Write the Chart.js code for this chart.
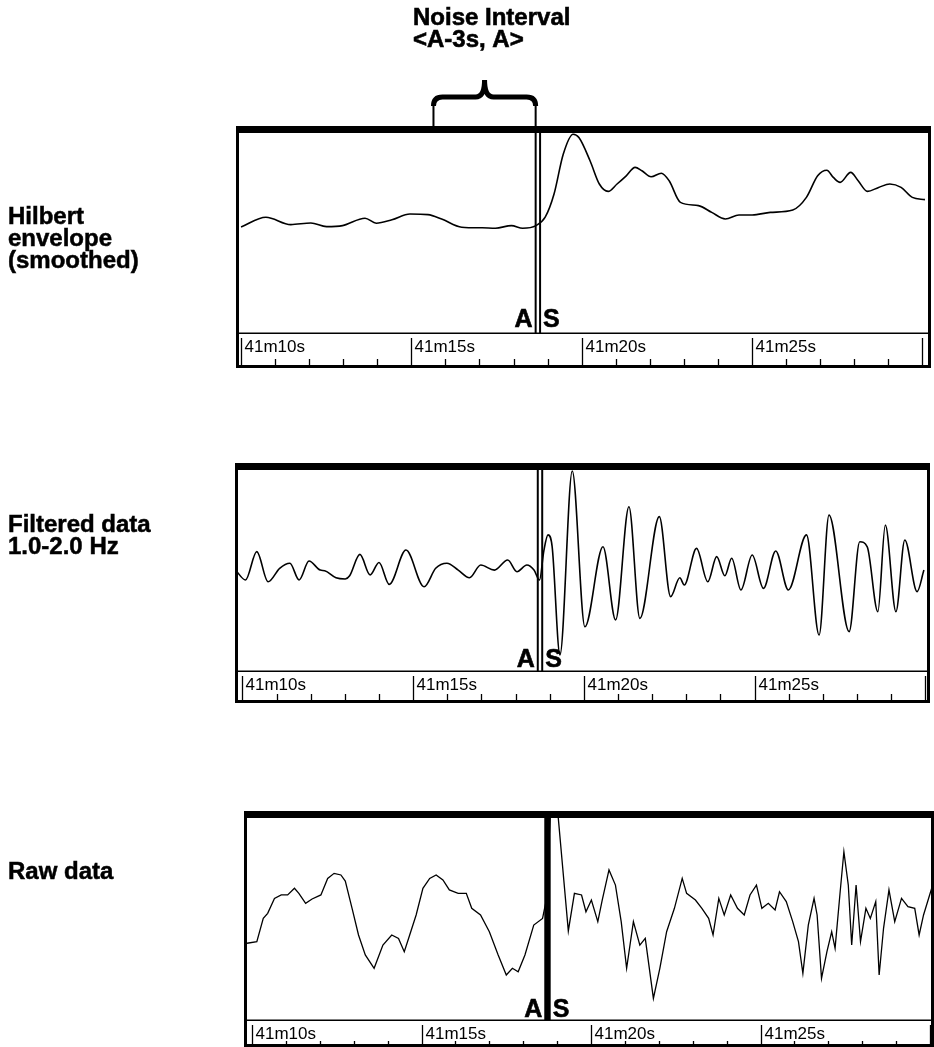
<!DOCTYPE html>
<html>
<head>
<meta charset="utf-8">
<title>Noise interval</title>
<script src="https://cdn.jsdelivr.net/npm/chart.js@4.4.1/dist/chart.umd.min.js"></script>
<style>
  body { margin: 0; background: #fff; }
  #page { position: relative; width: 934px; height: 1047px; overflow: hidden; background: #fff; }
  canvas { position: absolute; left: 0; }
  .side { position: absolute; left: 8px; font: bold 24px/22px "Liberation Sans", Arial, sans-serif; color: #000; -webkit-text-stroke: 0.5px #000; }
</style>
</head>
<body>
<div id="page">
  <canvas id="envChart" width="934" height="372" style="top:0"></canvas>
  <canvas id="filtChart" width="934" height="335" style="top:372px"></canvas>
  <canvas id="rawChart" width="934" height="340" style="top:707px"></canvas>
  <div class="side" style="top:205px">Hilbert<br>envelope<br>(smoothed)</div>
  <div class="side" style="top:513px">Filtered data<br>1.0-2.0 Hz</div>
  <div class="side" style="top:860px">Raw data</div>
</div>
<script>
// time = seconds after 41m10s, values = % of plot height
const envTime = [0, 0.73, 1.46, 2.05, 2.51, 2.98, 3.64, 3.97, 4.43, 4.96,
    5.49, 5.89, 6.48, 7.08, 7.47, 7.94, 8.27, 8.66, 8.93, 9.19,
    9.46, 9.75, 9.92, 10.25, 10.52, 10.78, 11.04, 11.31, 11.57, 11.77,
    12.04, 12.34, 12.57, 12.9, 13.43, 13.82, 14.22, 14.62, 15.01, 15.54,
    16.2, 16.6, 16.93, 17.2, 17.39, 17.59, 17.9, 18.12, 18.39, 18.72,
    19.05, 19.38, 19.71, 20.08];
const envValue = [53, 57.9, 54.2, 55, 53.2, 53.7, 57.4, 54.9, 56.6, 59.5,
    59.2, 57, 52.9, 52.6, 52.4, 53.7, 52.4, 53.7, 57.9, 69.5,
    89.4, 99.4, 97.7, 86, 74.5, 70.8, 74.5, 78.6, 82.8, 81.1,
    78.1, 79.9, 76.1, 65.3, 63.7, 60.3, 57, 59, 59, 60.3,
    61.5, 67.8, 78.6, 81.4, 77.8, 75.3, 80.3, 76.1, 70.8, 72.8,
    74.5, 72.8, 67.8, 66.7];

const filtTime = [-0.2, 0.09, 0.42, 0.75, 1.09, 1.39, 1.66, 1.95, 2.28, 2.41,
    2.74, 3.01, 3.14, 3.44, 3.74, 4.0, 4.3, 4.79, 5.32, 5.66,
    5.99, 6.32, 6.65, 6.98, 7.38, 7.77, 8.04, 8.33, 8.54, 8.7,
    8.83, 8.95, 9.07, 9.3, 9.66, 10.03, 10.56, 10.93, 11.32, 11.64,
    12.21, 12.54, 12.81, 12.94, 13.3, 13.63, 13.89, 14.13, 14.33, 14.6,
    14.93, 15.26, 15.62, 15.99, 16.52, 16.89, 17.18, 17.77, 18.08, 18.3,
    18.61, 18.83, 19.14, 19.4, 19.76, 19.96];
const filtValue = [50.2, 45.3, 59.4, 44.4, 51.1, 53.6, 45.3, 54.7, 50.2, 49.9,
    46.4, 45.8, 47.4, 58, 47.8, 54, 43.1, 60.2, 41.9, 51.1,
    53.6, 50.2, 46.4, 52.7, 50.2, 55.2, 49.4, 52.7, 50.2, 45.3,
    60, 67.7, 62, 8, 99.5, 22, 61.8, 25.4, 81.7, 26.2,
    76.8, 37, 46.4, 42.8, 61, 44.4, 56.9, 47.4, 56.1, 40.3,
    57.7, 41.1, 59.7, 40.3, 67.7, 17.9, 77.6, 19.6, 64.3, 61.8,
    29.5, 72.6, 29.5, 65.2, 39.5, 50.2];

const rawTime = [-0.15, 0.14, 0.33, 0.46, 0.66, 0.86, 1.05, 1.25, 1.38, 1.58,
    1.77, 2.03, 2.23, 2.42, 2.62, 2.75, 2.95, 3.14, 3.34, 3.6,
    3.86, 4.12, 4.32, 4.49, 4.65, 4.84, 5.04, 5.24, 5.43, 5.63,
    5.82, 6.08, 6.32, 6.48, 6.74, 7.0, 7.26, 7.5, 7.68, 7.85,
    8.05, 8.31, 8.57, 8.67, 8.8, 9.03, 9.33, 9.51, 9.72, 9.85,
    10.01, 10.2, 10.33, 10.53, 10.72, 10.89, 11.05, 11.25, 11.44, 11.6,
    11.84, 12.03, 12.23, 12.46, 12.69, 12.82, 13.08, 13.27, 13.47, 13.6,
    13.77, 13.93, 14.12, 14.32, 14.52, 14.69, 14.88, 15.04, 15.23, 15.43,
    15.56, 15.76, 15.95, 16.12, 16.25, 16.41, 16.58, 16.67, 16.8, 16.96,
    17.1, 17.2, 17.35, 17.46, 17.59, 17.69, 17.82, 17.95, 18.11, 18.24,
    18.4, 18.5, 18.63, 18.79, 18.96, 19.16, 19.35, 19.55, 19.68, 19.81,
    20.05];
const rawValue = [38, 38.8, 50.3, 52.8, 60.2, 61.9, 61.9, 65.2, 62.7, 57.8,
    59.9, 61.9, 70.1, 72.6, 71.8, 68.8, 55.3, 42.1, 32.2, 25.6,
    37.1, 42.1, 40.4, 33.8, 42.1, 52, 65.2, 70.1, 71.8, 69.3,
    64.4, 62.7, 62.7, 55.3, 52, 43.7, 32.2, 22.3, 25.6, 23.9,
    32.2, 47, 50.3, 58.6, 102, 100.7, 44.1, 62.7, 61.9, 53.6,
    59.4, 48.7, 59.4, 74.3, 66.8, 48.7, 25.6, 48.7, 37.1, 40.4,
    10.7, 25.6, 43.7, 55.3, 70.1, 62.7, 59.4, 55.3, 50.3, 42.1,
    60.2, 52, 61.9, 55.3, 52, 61.9, 66.8, 55.3, 57.8, 54.5,
    63.5, 58.6, 48.7, 38.8, 23.1, 47, 60.2, 52, 20.6, 33.8,
    43.7, 35.5, 63.5, 83.3, 66.8, 37.1, 66.8, 38.8, 55.3, 50.3,
    58.6, 22.3, 45.4, 64.4, 48.7, 60.2, 56.1, 55.3, 42.1, 52,
    65.2];

const tickSeconds = [0, 5, 10, 15, 20];
const tickLabels = ['41m10s', '41m15s', '41m20s', '41m25s', '41m30s'];

const pickA = 8.65;     // A pick
const pickS = 8.78;     // S pick
const noiseWindow = 3;  // <A-3s, A>

const FONT = '"Liberation Sans", Arial, sans-serif';

function heavyText(ctx, text, x, y) {
    ctx.fillText(text, x, y);
    ctx.lineWidth = 0.6;
    ctx.strokeText(text, x, y);
}

const seisFrame = {
    id: 'seisFrame',
    afterDraw(chart, args, o) {
        const { ctx, chartArea: a } = chart;
        const x = chart.scales.x;
        const bandBottom = a.bottom + o.band;
        ctx.save();
        ctx.fillStyle = '#000';
        ctx.strokeStyle = '#000';

        // frame, heavy on top
        ctx.fillRect(a.left - 3, a.top - 7, a.right - a.left + 6, 7);
        ctx.fillRect(a.left - 3, a.top, 3, bandBottom - a.top + 3);
        ctx.fillRect(a.right, a.top, 3, bandBottom - a.top + 3);
        ctx.fillRect(a.left - 3, bandBottom, a.right - a.left + 6, 3);
        ctx.fillRect(a.left, a.bottom - 0.5, a.right - a.left, 1.5);

        // time axis
        ctx.font = '17px ' + FONT;
        ctx.lineWidth = 1.3;
        for (let s = Math.ceil(x.min); s <= Math.floor(x.max); s++) {
            const px = Math.round(x.getPixelForValue(s)) + 0.5;
            const k = tickSeconds.indexOf(s);
            ctx.beginPath();
            if (k >= 0) {
                ctx.moveTo(px, a.bottom + 5);
            } else {
                ctx.moveTo(px, bandBottom - o.minor);
            }
            ctx.lineTo(px, bandBottom);
            ctx.stroke();
            if (k >= 0 && px + 3 + ctx.measureText(tickLabels[k]).width < a.right) {
                ctx.fillText(tickLabels[k], px + 3, a.bottom + 19);
            }
        }

        // A / S picks
        const xa = x.getPixelForValue(pickA);
        const xs = x.getPixelForValue(pickS);
        if (o.marker === 'double') {
            ctx.lineWidth = 2;
            [xa, xs].forEach(px => {
                ctx.beginPath();
                ctx.moveTo(px, a.top);
                ctx.lineTo(px, a.bottom);
                ctx.stroke();
            });
        } else {
            ctx.fillRect(xa - 1, a.top, xs - xa + 2, a.bottom - a.top);
        }
        ctx.font = 'bold 25px ' + FONT;
        ctx.textAlign = 'right';
        heavyText(ctx, 'A', xa - 3, a.bottom - o.letterDrop);
        ctx.textAlign = 'left';
        heavyText(ctx, 'S', xs + 3, a.bottom - o.letterDrop);

        // noise interval brace + title
        if (o.noise) {
            const x0 = x.getPixelForValue(pickA - noiseWindow);
            const x1 = xa;
            const mid = (x0 + x1) / 2;
            const yArm = 97, yTip = 80, r = 9, yLeg = a.top - 7;
            ctx.lineWidth = 2;
            ctx.beginPath();
            ctx.moveTo(x0, yLeg); ctx.lineTo(x0, yArm + r);
            ctx.moveTo(x1, yLeg); ctx.lineTo(x1, yArm + r);
            ctx.stroke();
            ctx.lineWidth = 5;
            ctx.beginPath();
            ctx.moveTo(x0, yArm + r);
            ctx.quadraticCurveTo(x0, yArm, x0 + r, yArm);
            ctx.lineTo(mid - r, yArm);
            ctx.quadraticCurveTo(mid, yArm, mid, yTip);
            ctx.quadraticCurveTo(mid, yArm, mid + r, yArm);
            ctx.lineTo(x1 - r, yArm);
            ctx.quadraticCurveTo(x1, yArm, x1, yArm + r);
            ctx.stroke();

            ctx.font = 'bold 24px ' + FONT;
            ctx.textAlign = 'left';
            heavyText(ctx, 'Noise Interval', 413, 25);
            heavyText(ctx, '<A-3s, A>', 413, 47);
        }
        ctx.restore();
    }
};

function makePanel(id, times, values, p) {
    const points = times.map((t, i) => ({ x: t, y: values[i] }));
    return new Chart(document.getElementById(id), {
        type: 'line',
        data: {
            datasets: [{
                data: points,
                borderColor: '#000',
                borderWidth: p.lineWidth,
                pointRadius: 0,
                fill: false,
                tension: p.tension,
                cubicInterpolationMode: p.mode
            }]
        },
        options: {
            responsive: false,
            animation: false,
            devicePixelRatio: 1,
            layout: {
                padding: { left: p.left, right: 934 - p.right, top: p.top, bottom: p.height - p.bottom }
            },
            scales: {
                x: { type: 'linear', min: p.xMin, max: p.xMax, display: false },
                y: { min: 0, max: 100, display: false }
            },
            plugins: {
                legend: { display: false },
                tooltip: { enabled: false },
                seisFrame: p
            }
        },
        plugins: [seisFrame]
    });
}

makePanel('envChart', envTime, envValue, {
    height: 372, left: 239, right: 928, top: 133, bottom: 333, band: 32, minor: 6,
    xMin: -0.06, xMax: 20.17, marker: 'double', letterDrop: 6,
    lineWidth: 1.6, tension: 0.4, mode: 'monotone', noise: true
});
makePanel('filtChart', filtTime, filtValue, {
    height: 335, left: 238, right: 927, top: 98, bottom: 299, band: 29, minor: 6,
    xMin: -0.13, xMax: 20.05, marker: 'double', letterDrop: 4,
    lineWidth: 1.6, tension: 0.4, mode: 'monotone', noise: false
});
makePanel('rawChart', rawTime, rawValue, {
    height: 340, left: 247, right: 931, top: 111, bottom: 313, band: 24, minor: 3,
    xMin: -0.15, xMax: 20.03, marker: 'thick', letterDrop: 3,
    lineWidth: 1.3, tension: 0, mode: 'default', noise: false
});
</script>
</body>
</html>
